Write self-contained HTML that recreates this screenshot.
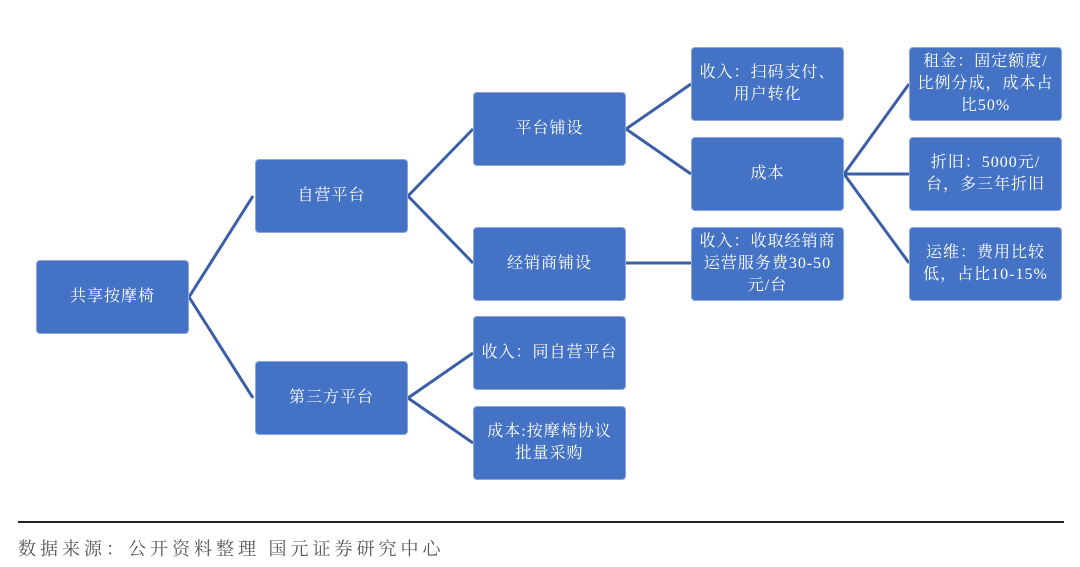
<!DOCTYPE html>
<html><head><meta charset="utf-8"><style>
body{margin:0;width:1080px;height:567px;background:#fff;position:relative;overflow:hidden;font-family:"Liberation Sans","Noto Sans CJK SC",sans-serif}
.b{position:absolute;width:153px;height:74px;background:#4472C4;border:1px solid #8aa6da;border-radius:4px;color:#fff;font-size:16px;line-height:22px;letter-spacing:1px;display:flex;align-items:center;justify-content:center;text-align:center;box-sizing:border-box;padding:0 1px;font-family:"Liberation Serif","Noto Serif CJK SC",serif}
svg{position:absolute;left:0;top:0}
.f{position:absolute;left:18px;top:535px;font-size:18px;color:#555;font-family:"Liberation Serif","Noto Serif CJK SC",serif;letter-spacing:4px}
.l{position:absolute;left:18px;top:521px;width:1046px;height:2px;background:#222}
</style></head><body>
<svg width="1080" height="567"><g stroke="#3a5fa8" stroke-width="3" fill="none">
<path d="M189 297L253 196M189 297L253 398"/>
<path d="M408 196L473 129M408 196L473 263"/>
<path d="M408 398L473 353M408 398L473 443"/>
<path d="M626 129L691 84M626 129L691 174M626 263L691 263"/>
<path d="M844 174L909 84M844 174L909 174M844 174L909 263"/>
</g></svg>
<div class="b" style="left:36px;top:260px">共享按摩椅</div>
<div class="b" style="left:255px;top:159px">自营平台</div>
<div class="b" style="left:255px;top:361px">第三方平台</div>
<div class="b" style="left:473px;top:92px">平台铺设</div>
<div class="b" style="left:473px;top:227px">经销商铺设</div>
<div class="b" style="left:473px;top:316px">收入：同自营平台</div>
<div class="b" style="left:473px;top:406px">成本:按摩椅协议<br>批量采购</div>
<div class="b" style="left:691px;top:47px">收入：扫码支付、<br>用户转化</div>
<div class="b" style="left:691px;top:137px">成本</div>
<div class="b" style="left:691px;top:227px">收入：收取经销商<br>运营服务费30-50<br>元/台</div>
<div class="b" style="left:909px;top:47px">租金：固定额度/<br>比例分成，成本占<br>比50%</div>
<div class="b" style="left:909px;top:137px">折旧：5000元/<br>台，多三年折旧</div>
<div class="b" style="left:909px;top:227px">运维：费用比较<br>低，占比10-15%</div>
<div class="l"></div>
<div class="f">数据来源：公开资料整理 国元证券研究中心</div>
</body></html>
